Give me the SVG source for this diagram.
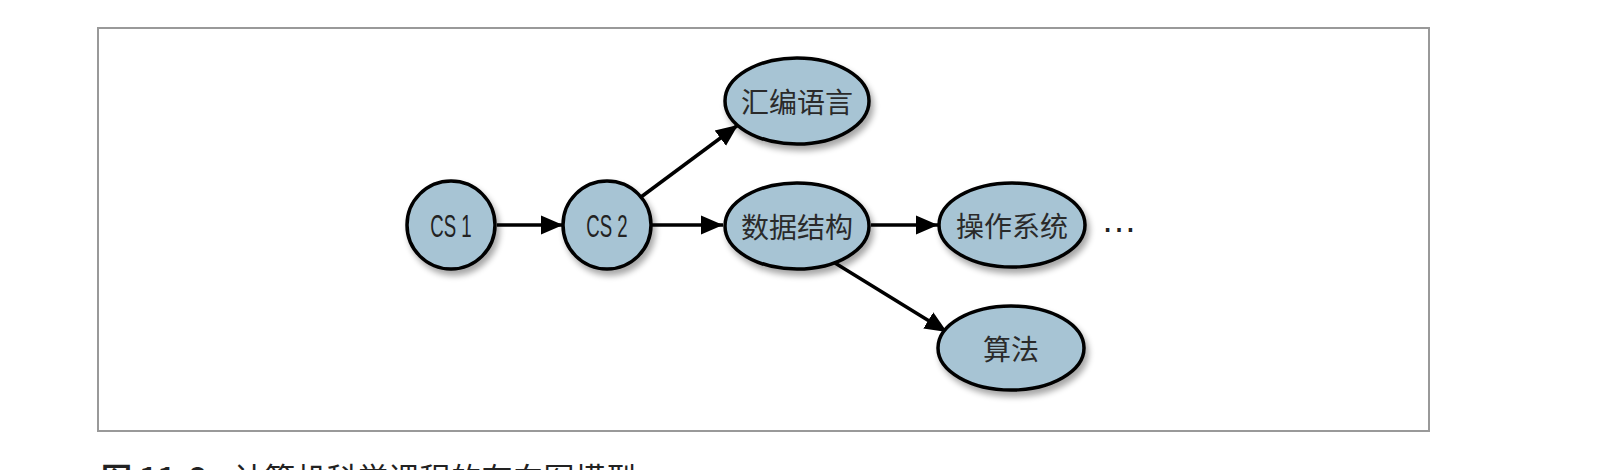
<svg xmlns="http://www.w3.org/2000/svg" width="1600" height="470" viewBox="0 0 1600 470">
  <defs>
    <filter id="shadow" x="-30%" y="-30%" width="160%" height="170%">
      <feGaussianBlur in="SourceAlpha" stdDeviation="3"/>
      <feOffset dx="3" dy="5" result="b"/>
      <feComponentTransfer><feFuncA type="linear" slope="0.35"/></feComponentTransfer>
      <feMerge><feMergeNode/><feMergeNode in="SourceGraphic"/></feMerge>
    </filter>
    <marker id="arrow" viewBox="0 0 22 22" refX="22" refY="11" markerWidth="22" markerHeight="22" markerUnits="userSpaceOnUse" orient="auto">
      <path d="M0,1.5 L22,11 L0,20.5 Z" fill="#000"/>
    </marker>
  </defs>
  <style>
    .frame { fill: #fff; stroke: #999; stroke-width: 2; }
    .node { fill: #a7c4d4; stroke: #000; stroke-width: 3.5; filter: url(#shadow); }
    .edge { stroke: #000; stroke-width: 3.5; fill: none; marker-end: url(#arrow); }
    .lat { font-family: "Liberation Sans", "DejaVu Sans", sans-serif; font-size: 31px; fill: #222; text-anchor: middle; dominant-baseline: central; }
    .cjk { font-family: "Noto Sans CJK SC", sans-serif; font-size: 28px; fill: #2a2a2a; text-anchor: middle; dominant-baseline: central; }
    .cap { font-family: "Noto Sans CJK SC", sans-serif; font-size: 31px; fill: #222; }
  </style>
  <rect width="1600" height="470" fill="#fff"/>
  <rect class="frame" x="98" y="28" width="1331" height="403"/>

  <g id="connectors">
    <line class="edge" x1="497" y1="225" x2="563" y2="225"/>
    <line class="edge" x1="652" y1="225" x2="723" y2="225"/>
    <line class="edge" x1="641" y1="197" x2="738" y2="125"/>
    <line class="edge" x1="871" y1="225" x2="938" y2="225"/>
    <line class="edge" x1="835" y1="263" x2="947" y2="332"/>
  </g>

  <g id="cs1">
    <circle class="node" cx="451" cy="225" r="44"/>
    <text class="lat" transform="translate(451,226) scale(0.6,1)" x="0" y="0">CS 1</text>
  </g>
  <g id="cs2">
    <circle class="node" cx="607" cy="225" r="44"/>
    <text class="lat" transform="translate(607,226) scale(0.6,1)" x="0" y="0">CS 2</text>
  </g>
  <g id="asm">
    <ellipse class="node" cx="797" cy="101" rx="72" ry="43"/>
    <text class="cjk" x="797" y="101">汇编语言</text>
  </g>
  <g id="ds">
    <ellipse class="node" cx="797" cy="226" rx="72" ry="43"/>
    <text class="cjk" x="797" y="226">数据结构</text>
  </g>
  <g id="os">
    <ellipse class="node" cx="1012" cy="225" rx="73" ry="42"/>
    <text class="cjk" x="1012" y="225">操作系统</text>
  </g>
  <g id="algo">
    <ellipse class="node" cx="1011" cy="348" rx="73" ry="42"/>
    <text class="cjk" x="1011" y="348">算法</text>
  </g>
  <text x="1119" y="232" font-family="Liberation Sans, sans-serif" font-size="36" fill="#222" text-anchor="middle">…</text>

  <text class="cap" x="101" y="490"><tspan font-weight="bold">图 11-6</tspan><tspan dx="28">计算机科学课程的有向图模型</tspan></text>
</svg>
